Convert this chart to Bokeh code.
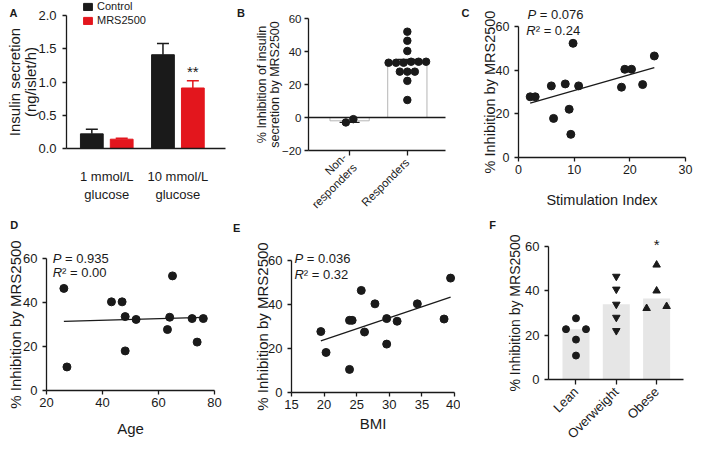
import numpy as np
from bokeh.plotting import figure
from bokeh.models import (ColumnDataSource, Range1d, FixedTicker, Whisker, TeeHead,
                          Label, Legend, LegendItem, PrintfTickFormatter)
from bokeh.transform import dodge
from bokeh.layouts import row, column
from bokeh.embed import file_html
from bokeh.resources import INLINE

FONT = "Liberation Sans"
INK = "#1a1a1a"
RED = "#e3161d"

# ---------------- data ----------------
# A: insulin secretion (ng/islet/h), mean and SEM
a_groups = ["1 mmol/L\nglucose", "10 mmol/L\nglucose"]
a_control = [0.22, 1.41]
a_control_sem = [0.07, 0.17]
a_mrs = [0.14, 0.91]
a_mrs_sem = [0.015, 0.11]
a_sig = "**"

# B: % inhibition of insulin secretion by MRS2500
b_groups = ["Non-\nresponders", "Responders"]
b_nonresponders = [-3.0, -1.0]
b_responders = [52.0, 46.5, 40.3, 33.8, 33.2, 33.2, 33.2, 33.8, 33.8,
                27.8, 27.8, 27.8, 22.2, 10.6]

# C: stimulation index vs inhibition
c_stim_index = [2.1, 3.0, 5.9, 6.3, 8.4, 9.1, 9.4, 9.8, 10.8, 18.5, 19.1, 20.3, 22.3, 24.4]
c_inhibition = [27.8, 27.8, 32.8, 17.9, 33.7, 22.1, 10.6, 52.3, 32.8, 32.2, 40.4, 40.4, 33.4, 46.5]
c_p, c_r2 = "0.076", "0.24"

# D: age vs inhibition
d_age = [26.2, 27.3, 43.2, 47.0, 48.1, 48.1, 52.0, 63.2, 64.0, 65.0, 72.0, 73.8, 76.0]
d_inhibition = [46.4, 10.7, 40.3, 40.3, 33.6, 18.0, 32.3, 27.7, 33.3, 52.1, 32.7, 22.0, 32.7]
d_p, d_r2 = "0.935", "0.00"

# E: BMI vs inhibition
e_bmi = [19.5, 20.3, 23.9, 23.9, 24.3, 25.7, 26.2, 27.8, 29.6, 29.6, 31.2, 34.3, 38.4, 39.4]
e_inhibition = [27.7, 18.2, 10.5, 32.8, 32.8, 46.4, 27.5, 40.3, 33.6, 22.0, 32.4, 40.3, 33.4, 52.0]
e_p, e_r2 = "0.036", "0.32"

# F: inhibition by BMI class
f_groups = ["Lean", "Overweight", "Obese"]
f_lean = [27.6, 22.7, 22.7, 18.0, 10.8]
f_overweight = [46.5, 40.7, 33.9, 28.0, 22.0]
f_obese = [51.7, 40.0, 32.1, 33.0]
f_sig = "*"

Y_TITLE = "% Inhibition by MRS2500"


# ---------------- helpers ----------------
def make_fig(W, H, L, R, T, B, xr, yr, tick_size, label_size):
    """Frame covers the whole canvas; the data box sits at the given insets and
    the axes are pinned to its edges with bounds."""
    x0, x1 = xr
    y0, y1 = yr
    kx = (x1 - x0) / (W - L - R)
    ky = (y1 - y0) / (H - T - B)
    p = figure(width=W, height=H,
               x_range=Range1d(x0 - L * kx, x1 + R * kx),
               y_range=Range1d(y0 - B * ky, y1 + T * ky),
               min_border_left=0, min_border_right=0, min_border_top=0, min_border_bottom=0,
               toolbar_location=None, output_backend="svg", title=None)
    p.outline_line_color = None
    p.xgrid.visible = False
    p.ygrid.visible = False
    p.xaxis.bounds = (x0, x1)
    p.yaxis.bounds = (y0, y1)
    p.xaxis.fixed_location = y0
    p.yaxis.fixed_location = x0
    for ax in p.axis:
        ax.axis_line_color = INK
        ax.axis_line_width = 1.3
        ax.major_tick_line_color = INK
        ax.major_tick_line_width = 1.3
        ax.major_tick_in = 0
        ax.major_tick_out = 4
        ax.minor_tick_line_color = None
        ax.major_label_text_font = FONT
        ax.major_label_text_font_size = tick_size
        ax.major_label_text_color = INK
        ax.major_label_standoff = 5
        ax.axis_label_text_font = FONT
        ax.axis_label_text_font_size = label_size
        ax.axis_label_text_font_style = "normal"
        ax.axis_label_text_color = INK
        ax.axis_label_text_line_height = 0.95
        ax.axis_label_standoff = 0
    return p


def letter(p, text, sx, sy):
    p.add_layout(Label(x=sx, y=sy, x_units="screen", y_units="screen", text=text,
                       text_font=FONT, text_font_style="bold", text_font_size="11px",
                       text_color=INK, text_baseline="alphabetic"))


def stat(p, x, y, sym, rest, dx, size="13px"):
    p.add_layout(Label(x=x, y=y, text=sym, text_font=FONT, text_font_style="italic",
                       text_font_size=size, text_color=INK, text_baseline="alphabetic"))
    p.add_layout(Label(x=x, y=y, x_offset=dx, text=rest, text_font=FONT,
                       text_font_size=size, text_color=INK, text_baseline="alphabetic"))


def fit_line(x, y):
    k, b = np.polyfit(x, y, 1)
    xs = np.array([min(x), max(x)])
    return xs, k * xs + b


def swarm(values, px_per_y, px_per_x, sep_px, step_px):
    v = np.asarray(values, float)
    order = np.argsort(v, kind="stable")
    groups, cur = [], [order[0]]
    for i in order[1:]:
        if (v[i] - v[cur[-1]]) * px_per_y < sep_px:
            cur.append(i)
        else:
            groups.append(cur)
            cur = [i]
    groups.append(cur)
    off = np.zeros(len(v))
    for g in groups:
        n = len(g)
        for k, i in enumerate(g):
            off[i] = (k - (n - 1) / 2) * step_px / px_per_x
    return off


# ---------------- panel A ----------------
A_W, A_H, A_L, A_R, A_T, A_B = 227, 210, 66, 2, 15, 62
a_xr = (-0.566, 1.669)
pa = make_fig(A_W, A_H, A_L, A_R, A_T, A_B, a_xr, (0, 2.0), "13px", "15px")
a_idx = list(range(len(a_groups)))
src_a = ColumnDataSource(dict(
    x=a_idx, ctrl=a_control, ctrl_hi=list(np.add(a_control, a_control_sem)),
    mrs=a_mrs, mrs_hi=list(np.add(a_mrs, a_mrs_sem))))
DODGE, BW = 0.21, 0.32
r_ctrl = pa.vbar(x=dodge("x", -DODGE), top="ctrl", width=BW, source=src_a,
                 fill_color=INK, line_color=INK)
r_mrs = pa.vbar(x=dodge("x", DODGE), top="mrs", width=BW, source=src_a,
                fill_color=RED, line_color=RED)
pa.add_layout(Whisker(base=dodge("x", -DODGE), lower="ctrl", upper="ctrl_hi", source=src_a,
                      lower_head=None, upper_head=TeeHead(size=12, line_color=INK, line_width=1.5),
                      line_color=INK, line_width=1.5))
pa.add_layout(Whisker(base=dodge("x", DODGE), lower="mrs", upper="mrs_hi", source=src_a,
                      lower_head=None, upper_head=TeeHead(size=12, line_color=RED, line_width=1.5),
                      line_color=RED, line_width=1.5))
pa.yaxis.ticker = FixedTicker(ticks=[0, 0.5, 1.0, 1.5, 2.0])
pa.yaxis.formatter = PrintfTickFormatter(format="%.1f")
pa.yaxis.axis_label = "Insulin secretion\n(ng/islet/h)"
pa.yaxis.major_label_standoff = 6
pa.yaxis.axis_label_standoff = -4
pa.xaxis.ticker = FixedTicker(ticks=a_idx)
pa.xaxis.major_label_overrides = {i: g for i, g in zip(a_idx, a_groups)}
pa.xaxis.major_tick_out = 0
pa.xaxis.major_label_standoff = 20
leg = Legend(items=[LegendItem(label="Control", renderers=[r_ctrl]),
                    LegendItem(label="MRS2500", renderers=[r_mrs])],
             location=(82, A_H - 26), label_text_font=FONT, label_text_font_size="11px",
             label_text_color=INK, glyph_width=11, glyph_height=9, label_height=11,
             label_standoff=4, spacing=2, padding=0, margin=0,
             border_line_color=None, background_fill_alpha=0)
pa.add_layout(leg)
pa.add_layout(Label(x=a_idx[1] + DODGE, y=a_mrs[1] + a_mrs_sem[1], y_offset=1, text=a_sig,
                    text_font=FONT, text_font_size="15px", text_color=INK,
                    text_align="center", text_baseline="bottom"))
letter(pa, "A", 9, A_H - 12.5)

# ---------------- panel B ----------------
B_W, B_H, B_L, B_R, B_T, B_B = 233, 216, 81, 15, 18, 66
b_xr, b_yr = (-0.712, 1.661), (-20, 60)
pb = make_fig(B_W, B_H, B_L, B_R, B_T, B_B, b_xr, b_yr, "11.5px", "12.5px")
b_sets = [b_nonresponders, b_responders]
b_idx = list(range(len(b_groups)))
b_mean = [float(np.mean(s)) for s in b_sets]
b_sem = [float(np.std(s, ddof=1) / np.sqrt(len(s))) for s in b_sets]
src_b = ColumnDataSource(dict(x=b_idx, mean=b_mean,
                              lo=list(np.subtract(b_mean, b_sem)),
                              hi=list(np.add(b_mean, b_sem))))
b_fw = B_W - B_L - B_R
b_fh = B_H - B_T - B_B
pb.vbar(x="x", top="mean", bottom=0, width=0.68, source=src_b,
        fill_color="white", line_color="#b5b5b5", line_width=1)
pb.segment(x0=[b_xr[0]], y0=[0], x1=[b_xr[1]], y1=[0], line_color=INK, line_width=1.3)
pb.add_layout(Whisker(base="x", lower="lo", upper="hi", source=src_b,
                      lower_head=TeeHead(size=20, line_color=INK, line_width=1.2),
                      upper_head=TeeHead(size=20, line_color=INK, line_width=1.2),
                      line_color=INK, line_width=1.2))
bx, by = [], []
for i, s in zip(b_idx, b_sets):
    off = swarm(s, b_fh / (b_yr[1] - b_yr[0]), b_fw / (b_xr[1] - b_xr[0]), 6, 7.5)
    bx += list(i + off)
    by += list(s)
pb.scatter(bx, by, size=7.5, color=INK)
pb.yaxis.ticker = FixedTicker(ticks=[-20, 0, 20, 40, 60])
pb.yaxis.major_label_overrides = {-20: "\u221220"}
pb.yaxis.axis_label = "% Inhibition of insulin\nsecretion by MRS2500"
pb.yaxis.major_label_standoff = 3
pb.yaxis.axis_label_standoff = -3
pb.xaxis.ticker = FixedTicker(ticks=b_idx)
pb.xaxis.major_label_overrides = {i: g for i, g in zip(b_idx, b_groups)}
pb.xaxis.major_label_orientation = np.pi / 4
pb.xaxis.major_tick_out = 5
letter(pb, "B", 9.5, B_H - 12.5)

# ---------------- panel C ----------------
C_W, C_H, C_L, C_R, C_T, C_B = 233, 208, 58, 8, 26, 51
pc = make_fig(C_W, C_H, C_L, C_R, C_T, C_B, (0, 30), (0, 60), "12.5px", "14.5px")
pc.scatter(c_stim_index, c_inhibition, size=8, color=INK)
xs, ys = fit_line(c_stim_index, c_inhibition)
pc.line(xs, ys, line_color=INK, line_width=1.3)
pc.xaxis.ticker = FixedTicker(ticks=[0, 10, 20, 30])
pc.yaxis.ticker = FixedTicker(ticks=[0, 20, 40, 60])
pc.xaxis.axis_label = "Stimulation Index"
pc.yaxis.axis_label = Y_TITLE
pc.xaxis.major_label_standoff = 3
pc.xaxis.axis_label_standoff = 15
pc.yaxis.axis_label_standoff = -5
stat(pc, 1.6, 65.3, "P", "= " + c_p, 12.3)
stat(pc, 1.4, 58.2, "R", "\u00b2 = " + c_r2, 9.4)
letter(pc, "C", 1, C_H - 12.5)

# ---------------- panel D ----------------
D_W, D_H, D_L, D_R, D_T, D_B = 227, 234, 46, 13, 48, 54
pd_ = make_fig(D_W, D_H, D_L, D_R, D_T, D_B, (20, 80), (0, 60), "13px", "15px")
pd_.scatter(d_age, d_inhibition, size=8, color=INK)
xs, ys = fit_line(d_age, d_inhibition)
pd_.line(xs, ys, line_color=INK, line_width=1.3)
pd_.xaxis.ticker = FixedTicker(ticks=[20, 40, 60, 80])
pd_.yaxis.ticker = FixedTicker(ticks=[0, 20, 40, 60])
pd_.xaxis.axis_label = "Age"
pd_.yaxis.axis_label = Y_TITLE
pd_.xaxis.major_label_standoff = 3
pd_.xaxis.axis_label_standoff = 10
pd_.yaxis.axis_label_standoff = -4
stat(pd_, 22.2, 60.1, "P", "= " + d_p, 12.3)
stat(pd_, 22.2, 53.6, "R", "\u00b2 = " + d_r2, 9.4)
letter(pd_, "D", 9.8, D_H - 14.9)

# ---------------- panel E ----------------
E_W, E_H, E_L, E_R, E_T, E_B = 233, 228, 64, 6, 44, 52
pe = make_fig(E_W, E_H, E_L, E_R, E_T, E_B, (15, 40), (0, 60), "13px", "15px")
pe.scatter(e_bmi, e_inhibition, size=8, color=INK)
xs, ys = fit_line(e_bmi, e_inhibition)
pe.line(xs, ys, line_color=INK, line_width=1.3)
pe.xaxis.ticker = FixedTicker(ticks=[15, 20, 25, 30, 35, 40])
pe.yaxis.ticker = FixedTicker(ticks=[0, 20, 40, 60])
pe.xaxis.axis_label = "BMI"
pe.yaxis.axis_label = Y_TITLE
pe.xaxis.major_label_standoff = 3
pe.xaxis.axis_label_standoff = 3
pe.yaxis.axis_label_standoff = -6
stat(pe, 15.45, 61.0, "P", "= " + e_p, 12.3)
stat(pe, 15.45, 53.7, "R", "\u00b2 = " + e_r2, 9.4)
letter(pe, "E", 5.6, E_H - 11.8)

# ---------------- panel F ----------------
F_W, F_H, F_L, F_R, F_T, F_B = 233, 236, 88, 10, 38, 65
f_xr, f_yr = (-0.682, 2.667), (0, 60)
pf = make_fig(F_W, F_H, F_L, F_R, F_T, F_B, f_xr, f_yr, "13px", "14px")
f_sets = [f_lean, f_overweight, f_obese]
f_idx = list(range(len(f_groups)))
f_markers = ["circle", "inverted_triangle", "triangle"]
pf.vbar(x=f_idx, top=[float(np.median(s)) for s in f_sets], width=0.67,
        fill_color="#e6e6e6", line_color=None)
f_fw, f_fh = F_W - F_L - F_R, F_H - F_T - F_B
for i, s, m in zip(f_idx, f_sets, f_markers):
    off = swarm(s, f_fh / (f_yr[1] - f_yr[0]), f_fw / (f_xr[1] - f_xr[0]), 7, 20)
    pf.scatter(list(i + off), s, marker=m, size=7 if m == "circle" else 7.5, color=INK)
pf.yaxis.ticker = FixedTicker(ticks=[0, 20, 40, 60])
pf.yaxis.axis_label = Y_TITLE
pf.yaxis.axis_label_standoff = -1
pf.xaxis.ticker = FixedTicker(ticks=f_idx)
pf.xaxis.major_label_overrides = {i: g for i, g in zip(f_idx, f_groups)}
pf.xaxis.major_label_orientation = np.pi / 4
pf.xaxis.major_tick_out = 5
pf.add_layout(Label(x=f_idx[2], y=f_yr[1], y_offset=2, text=f_sig, text_font=FONT,
                    text_font_size="15px", text_color=INK, text_align="center",
                    text_baseline="middle"))
letter(pf, "F", 28.7, F_H - 16.9)

layout = row(column(pa, pd_), column(pb, pe), column(pc, pf))
open("out.html", "w").write(file_html(layout, INLINE))
